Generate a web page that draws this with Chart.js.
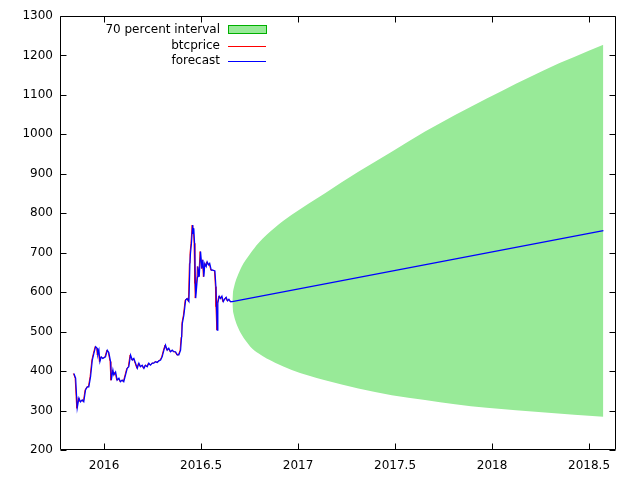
<!DOCTYPE html>
<html lang="en">
<head>
  <meta charset="UTF-8" />
  <title>BTC price forecast</title>
  <script src="https://cdn.jsdelivr.net/npm/chart.js"></script>
  <style>
    body { margin: 0; background: #fff; }
    canvas { display: block; }
  </style>
</head>
<body>
  <canvas id="chart" width="640" height="480"></canvas>
  <script>
    // historical price (fractional year, USD)
    const priceT = [2015.842, 2015.851, 2015.856, 2015.859, 2015.868, 2015.876, 2015.885, 2015.893, 2015.902, 2015.911,
      2015.919, 2015.928, 2015.937, 2015.945, 2015.954, 2015.962, 2015.965, 2015.971, 2015.976, 2015.983,
      2015.991, 2016.005, 2016.014, 2016.022, 2016.031, 2016.035, 2016.043, 2016.048, 2016.057, 2016.065,
      2016.074, 2016.082, 2016.091, 2016.099, 2016.108, 2016.117, 2016.125, 2016.130, 2016.134, 2016.143,
      2016.151, 2016.160, 2016.169, 2016.177, 2016.186, 2016.194, 2016.203, 2016.211, 2016.220, 2016.228,
      2016.237, 2016.246, 2016.254, 2016.263, 2016.272, 2016.280, 2016.289, 2016.297, 2016.306, 2016.314,
      2016.323, 2016.331, 2016.340, 2016.349, 2016.357, 2016.366, 2016.375, 2016.383, 2016.392, 2016.397,
      2016.401, 2016.409, 2016.418, 2016.426, 2016.435, 2016.440, 2016.443, 2016.448, 2016.454, 2016.457,
      2016.460, 2016.464, 2016.468, 2016.470, 2016.479, 2016.481, 2016.488, 2016.495, 2016.502, 2016.507,
      2016.512, 2016.517, 2016.524, 2016.529, 2016.537, 2016.542, 2016.550, 2016.558, 2016.569, 2016.574,
      2016.577, 2016.581, 2016.584, 2016.591, 2016.598, 2016.605, 2016.612, 2016.619, 2016.627, 2016.634,
      2016.641, 2016.649, 2016.658];
    const priceV = [394, 382, 335, 306, 332, 322, 327, 322, 352, 360,
      360, 386, 428, 445, 462, 458, 441, 453, 424, 436,
      432, 436, 453, 447, 424, 377, 403, 390, 398, 377,
      382, 373, 377, 373, 390, 407, 411, 428, 441, 428,
      432, 420, 407, 420, 411, 415, 407, 415, 411, 420,
      415, 420, 420, 424, 422, 426, 428, 436, 453, 466,
      453, 458, 449, 453, 449, 449, 441, 441, 453, 486,
      521, 542, 580, 584, 576, 673, 698, 724, 770, 749,
      762, 724, 622, 585, 639, 665, 639, 703, 660, 682,
      639, 673, 665, 677, 669, 673, 656, 656, 654, 614,
      563, 504, 572, 590, 584, 590, 576, 582, 587, 578,
      582, 576, 576];

    // out-of-sample forecast line
    const fcT = [2016.660, 2018.574];
    const fcV = [576, 756];

    // 70 percent interval
    const bandT = [2016.6613, 2016.6639, 2016.6691, 2016.6768, 2016.6871, 2016.6974, 2016.7098, 2016.7284,
      2016.7541, 2016.7954, 2016.8814, 2016.9675, 2017.1392, 2017.3108, 2017.4830, 2017.6546, 2017.8093,
      2017.9727, 2018.2732, 2018.5737];
    const bandHi = [576, 596, 611, 626, 640, 652, 665, 680, 698, 724, 764, 796, 851, 905, 956, 1007, 1049,
      1091, 1164, 1227];
    const bandLo = [576, 556, 542, 528, 514, 503, 492, 478, 462, 445, 421, 403, 377, 356, 339, 327, 316,
      307, 295, 284];

    const xTicks = [2016, 2016.5, 2017, 2017.5, 2018, 2018.5];
    const yTicks = [200, 300, 400, 500, 600, 700, 800, 900, 1000, 1100, 1200, 1300];

    const FONT = 'DejaVu Sans';
    const lag = 1 / 365;

    const pricePts = priceT.map((t, i) => ({ x: t, y: priceV[i] }));
    const fitPts = priceT.map((t, i) => ({ x: t + lag, y: priceV[i] }))
      .concat(fcT.map((t, i) => ({ x: t, y: fcV[i] })));
    const hiPts = bandT.map((t, i) => ({ x: t, y: bandHi[i] }));
    const loPts = bandT.map((t, i) => ({ x: t, y: bandLo[i] }));

    const frame = {
      id: 'frame',
      afterDraw(chart) {
        const { ctx, chartArea: a, scales: { x, y } } = chart;
        const L = a.left + 0.5, R = a.right - 0.5, T = a.top + 0.5, B = a.bottom - 0.5;
        ctx.save();
        ctx.strokeStyle = '#000';
        ctx.lineWidth = 1;
        ctx.beginPath();
        ctx.rect(L, T, R - L, B - T);
        yTicks.forEach(v => {
          const py = Math.round(y.getPixelForValue(v)) + 0.5;
          ctx.moveTo(L, py); ctx.lineTo(L + 6, py);
          ctx.moveTo(R, py); ctx.lineTo(R - 6, py);
        });
        xTicks.forEach(v => {
          const px = Math.round(x.getPixelForValue(v)) + 0.5;
          ctx.moveTo(px, B); ctx.lineTo(px, B - 6);
          ctx.moveTo(px, T); ctx.lineTo(px, T + 6);
        });
        ctx.stroke();

        // key, top left inside the plot
        ctx.font = '12px "' + FONT + '"';
        ctx.textAlign = 'right';
        ctx.textBaseline = 'middle';
        ctx.fillStyle = '#000';
        const tx = 220, sx0 = 228, sx1 = 266;
        const rows = [30, 45.5, 61];
        ctx.fillText(chart.data.datasets[0].label, tx, rows[0]);
        ctx.fillStyle = '#98ea98';
        ctx.fillRect(sx0, rows[0] - 4, sx1 - sx0, 8);
        ctx.strokeStyle = '#00b000';
        ctx.strokeRect(sx0 + 0.5, rows[0] - 4.5, sx1 - sx0, 8);
        [[2, '#ff0000'], [3, '#0000ff']].forEach(([di, col], k) => {
          ctx.fillStyle = '#000';
          ctx.fillText(chart.data.datasets[di].label, tx, rows[k + 1]);
          ctx.strokeStyle = col;
          ctx.beginPath();
          ctx.moveTo(sx0, Math.round(rows[k + 1]) + 0.5);
          ctx.lineTo(sx1, Math.round(rows[k + 1]) + 0.5);
          ctx.stroke();
        });
        ctx.restore();
      }
    };

    new Chart(document.getElementById('chart').getContext('2d'), {
      type: 'line',
      data: {
        datasets: [
          { label: '70 percent interval', data: hiPts, fill: '+1', backgroundColor: '#98ea98',
            borderWidth: 0, borderColor: 'rgba(0,0,0,0)', pointRadius: 0,
            cubicInterpolationMode: 'monotone', order: 4 },
          { label: 'lower', data: loPts, fill: false, borderWidth: 0, borderColor: 'rgba(0,0,0,0)',
            pointRadius: 0, cubicInterpolationMode: 'monotone', order: 5 },
          { label: 'btcprice', data: pricePts, borderColor: '#ff0000', borderWidth: 1,
            pointRadius: 0, fill: false, order: 2 },
          { label: 'forecast', data: fitPts, borderColor: '#0000ff', borderWidth: 1.2,
            pointRadius: 0, fill: false, order: 1 }
        ]
      },
      options: {
        responsive: false,
        animation: false,
        layout: { padding: { top: 16, right: 24, left: 0, bottom: 0 } },
        plugins: { legend: { display: false }, tooltip: { enabled: false } },
        scales: {
          x: {
            type: 'linear', min: 2015.773, max: 2018.639,
            afterBuildTicks: s => { s.ticks = xTicks.map(v => ({ value: v })); },
            afterFit: s => { s.height = 30; },
            grid: { display: false, drawTicks: false },
            border: { display: false },
            ticks: { padding: 9, color: '#000', font: { family: FONT, size: 12 },
              maxRotation: 0, callback: v => String(v) }
          },
          y: {
            min: 200, max: 1300,
            afterBuildTicks: s => { s.ticks = yTicks.map(v => ({ value: v })); },
            afterFit: s => { s.width = 60; },
            grid: { display: false, drawTicks: false },
            border: { display: false },
            ticks: { padding: 7, color: '#000', font: { family: FONT, size: 12 },
              callback: v => String(v) }
          }
        }
      },
      plugins: [frame]
    });
  </script>
</body>
</html>
